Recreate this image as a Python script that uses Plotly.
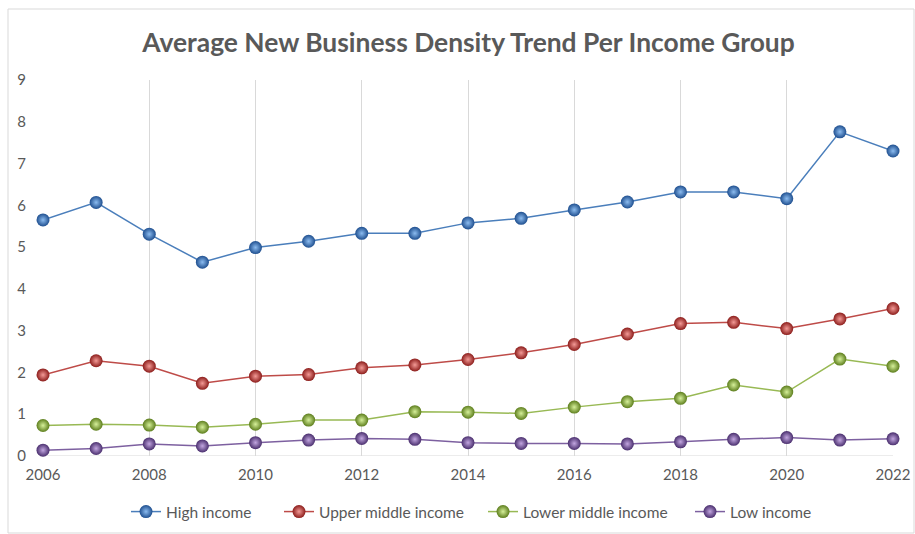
import plotly.graph_objects as go

years = list(range(2006, 2023))
high_income = [5.65, 6.07, 5.31, 4.64, 4.99, 5.14, 5.33, 5.33, 5.58, 5.69, 5.89, 6.08, 6.32, 6.32, 6.16, 7.76, 7.30]
upper_middle_income = [1.94, 2.28, 2.15, 1.74, 1.91, 1.95, 2.11, 2.18, 2.31, 2.47, 2.67, 2.92, 3.17, 3.20, 3.05, 3.28, 3.53]
lower_middle_income = [0.73, 0.76, 0.74, 0.69, 0.76, 0.86, 0.86, 1.06, 1.05, 1.02, 1.17, 1.30, 1.38, 1.70, 1.53, 2.32, 2.15]
low_income = [0.14, 0.18, 0.29, 0.24, 0.32, 0.38, 0.42, 0.40, 0.32, 0.30, 0.30, 0.29, 0.34, 0.40, 0.44, 0.38, 0.41]

series = [
    ("High income", high_income, "#4a7ebb", "#8cbcf0", "#1f4f8f"),
    ("Upper middle income", upper_middle_income, "#be4b48", "#f39a96", "#8c1d1b"),
    ("Lower middle income", lower_middle_income, "#98b954", "#d6f09a", "#5d7e1d"),
    ("Low income", low_income, "#7d60a0", "#c2a6e0", "#4a2f6e"),
]
legend_ids = ["legend", "legend2", "legend3", "legend4"]
legend_marker_px = [148, 301, 505, 712]

fig = go.Figure()
for (name, vals, lc, c_in, c_out), lid in zip(series, legend_ids):
    fig.add_trace(go.Scatter(
        x=years, y=vals, name=name, mode="lines+markers",
        line=dict(color=lc, width=1.5),
        marker=dict(size=13, color=c_out, gradient=dict(type="radial", color=c_in),
                    line=dict(width=0)),
        cliponaxis=False, legend=lid,
    ))

legend_common = dict(orientation="h", xanchor="left", xref="container",
                     y=1 - 512/534, yanchor="middle", yref="container",
                     font=dict(size=15.5, color="#595959"), bgcolor="rgba(0,0,0,0)")
legends = {}
for lid, mx in zip(legend_ids, legend_marker_px):
    legends[lid] = dict(legend_common, x=(mx - 22) / 915)

fig.update_layout(
    width=915, height=534,
    margin=dict(l=43, r=22, t=80, b=78, autoexpand=False),
    paper_bgcolor="white", plot_bgcolor="white",
    title=dict(text="<b>Average New Business Density Trend Per Income Group</b>",
               x=0.5 + 11/915, xanchor="center", y=1 - 43/534, yanchor="middle",
               font=dict(family="Lato", size=26.4, color="#595959")),
    font=dict(family="Lato", color="#595959", size=14),
    xaxis=dict(range=[2006, 2022], tickvals=list(range(2006, 2023, 2)),
               showgrid=True, gridcolor="#d9d9d9", gridwidth=1,
               showline=False, zeroline=False, ticks="", ticklabelstandoff=8,
               tickfont=dict(size=15, color="#595959")),
    yaxis=dict(range=[0, 9], dtick=1, showgrid=False, zeroline=False,
               showline=False, ticks="", ticklabelstandoff=16,
               tickfont=dict(size=15, color="#595959")),
    showlegend=True,
    shapes=[
        dict(type="line", xref="paper", yref="y", x0=0, x1=1, y0=0, y1=0,
             line=dict(color="#d9d9d9", width=1), layer="below"),
        dict(type="rect", xref="paper", yref="paper",
             x0=-35/850, x1=(914-43)/850, y0=(456-533)/376, y1=(456-9)/376,
             line=dict(color="#d9d9d9", width=1)),
    ],
    **legends,
)

fig.write_html("out.html")
